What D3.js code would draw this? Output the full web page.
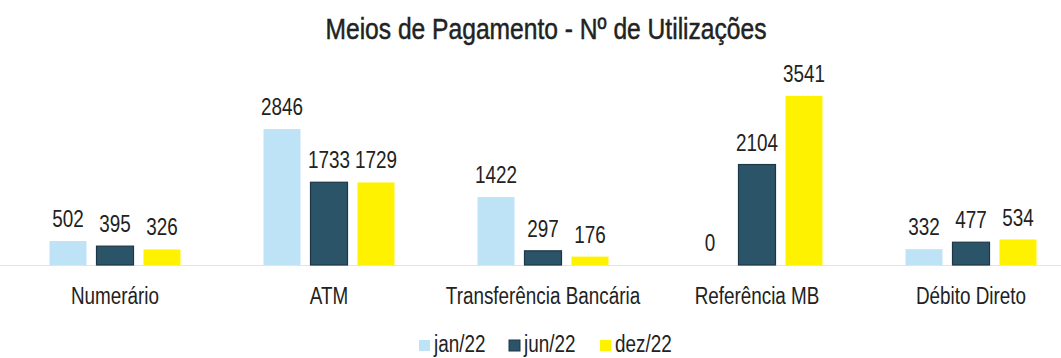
<!DOCTYPE html>
<html>
<head>
<meta charset="utf-8">
<script src="https://cdn.jsdelivr.net/npm/d3@7"></script>
<style>
  html, body { margin: 0; padding: 0; background: #fff; }
  svg { display: block; }
  text { font-family: "Liberation Sans", Arial, sans-serif; fill: #222; }
</style>
</head>
<body>
<svg id="chart" width="1061" height="358"></svg>
<script>
// Payment methods: number of uses per month snapshot
const categories = ["Numerário", "ATM", "Transferência Bancária", "Referência MB", "Débito Direto"];
const seriesNames = ["jan/22", "jun/22", "dez/22"];
const jan22 = [502, 2846, 1422, 0, 332];
const jun22 = [395, 1733, 297, 2104, 477];
const dez22 = [326, 1729, 176, 3541, 534];
const seriesValues = [jan22, jun22, dez22];
const colors = ["#bfe3f6", "#2c5468", "#fff200"];
const strokes = ["none", "#1c3746", "none"];

const svg = d3.select("#chart");
const W = 1061, baseY = 265;
const NARROW = 0.82; // condensed look for the text

const x0 = d3.scaleBand().domain(categories).range([8, 1078]).padding(0);
const x1 = d3.scaleBand().domain(seriesNames)
  .range([x0.bandwidth() / 2 - 65.5, x0.bandwidth() / 2 + 65.5])
  .paddingInner(10 / 47).paddingOuter(0);
const y = d3.scaleLinear().domain([0, 4000]).range([baseY, 74]);

// Title
svg.append("text")
  .attr("class", "title")
  .attr("x", 546).attr("y", 39)
  .attr("text-anchor", "middle")
  .style("font-size", "30px")
  .style("stroke", "#222").style("stroke-width", 0.5)
  .text("Meios de Pagamento - Nº de Utilizações");

// Baseline
svg.append("line")
  .attr("x1", 0).attr("x2", W)
  .attr("y1", baseY + 0.5).attr("y2", baseY + 0.5)
  .attr("stroke", "#e3e3e3").attr("stroke-width", 1);

const groups = svg.selectAll("g.cat")
  .data(categories)
  .join("g")
  .attr("class", "cat")
  .attr("transform", d => `translate(${x0(d)},0)`);

const cells = groups.selectAll("g.bar")
  .data((c, ci) => seriesNames.map((s, si) => ({ s, si, v: seriesValues[si][ci] })))
  .join("g")
  .attr("class", "bar");

cells.append("rect")
  .attr("x", d => x1(d.s))
  .attr("width", x1.bandwidth())
  .attr("y", d => y(d.v))
  .attr("height", d => baseY - y(d.v))
  .attr("fill", d => colors[d.si])
  .attr("stroke", d => strokes[d.si])
  .attr("stroke-width", 1.2);

cells.append("text")
  .attr("x", d => x1(d.s) + x1.bandwidth() / 2)
  .attr("y", d => y(d.v) - 14)
  .attr("text-anchor", "middle")
  .style("font-size", "23px")
  .text(d => d.v);

// Category labels
groups.append("text")
  .attr("x", x0.bandwidth() / 2)
  .attr("y", 304)
  .attr("text-anchor", "middle")
  .style("font-size", "23px")
  .text(d => d);

// Legend
const legendX = [419, 509, 600];
const legend = svg.selectAll("g.legend")
  .data(seriesNames)
  .join("g")
  .attr("class", "legend")
  .attr("transform", (d, i) => `translate(${legendX[i]},340)`);
legend.append("rect")
  .attr("width", 11).attr("height", 11)
  .attr("fill", (d, i) => colors[i])
  .attr("stroke", (d, i) => strokes[i]);
legend.append("text")
  .attr("x", 15).attr("y", 12)
  .style("font-size", "23px")
  .text(d => d);

// Condense every label horizontally
svg.selectAll("text").each(function () {
  const len = this.getComputedTextLength();
  d3.select(this)
    .attr("textLength", len * NARROW)
    .attr("lengthAdjust", "spacingAndGlyphs");
});
</script>
</body>
</html>
